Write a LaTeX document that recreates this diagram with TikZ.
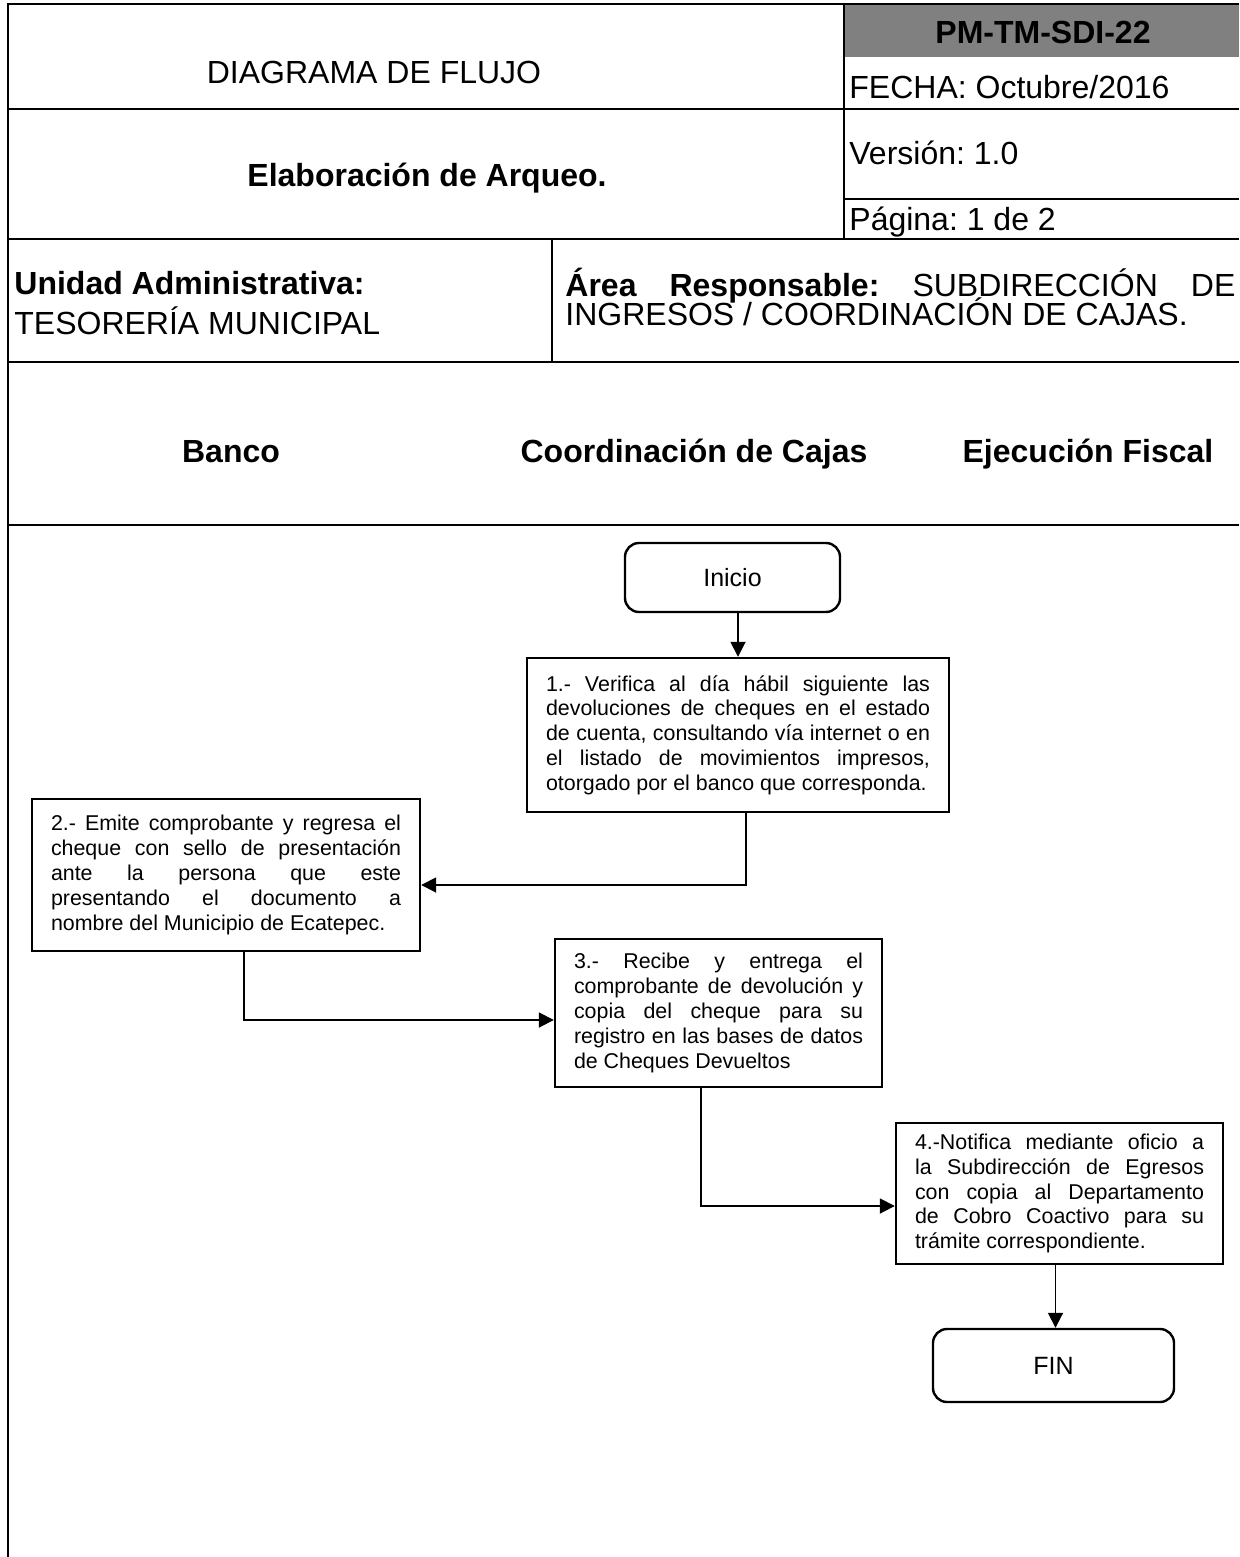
\documentclass[tikz,border=0pt]{standalone}
\usepackage{fontspec}
\setmainfont{Liberation Sans}
\usetikzlibrary{arrows.meta, positioning}
\frenchspacing
\tolerance=10000
\hyphenpenalty=10000
\newcommand{\tightlines}{\lineskiplimit=-20pt\relax}

\begin{document}
\begin{tikzpicture}[x=0.5pt, y=-0.5pt, >={Triangle[length=7.5pt, width=7.5pt]},
    every node/.style={align=center, inner sep=0pt},
    hdr/.style={font=\fontsize{16}{19}\selectfont},
    hdrb/.style={font=\bfseries\fontsize{16}{19}\selectfont},
    tabline/.style={line width=1.4pt},
    stepbox/.style={draw, line width=1.2pt, align=justify, inner xsep=9.5pt,
      font=\fontsize{10.7}{12.4}\selectfont},
    termbox/.style={draw, line width=1.2pt, rounded corners=7pt,
      font=\fontsize{12.5}{15}\selectfont},
    flow/.style={->, line width=0.9pt}]
      \colorlet{codebg}{black!50}
      \useasboundingbox (0, 0) rectangle (1239, 1557);

      % header table
      \fill[codebg] (844, 4) rectangle (1239, 57);
      \draw[tabline] (1239, 4) -- (8, 4) -- (8, 1557);
      \foreach \y in {109, 239, 362, 525} {
        \draw[tabline] (8, \y) -- (1239, \y);
      }
      \draw[tabline] (844, 199) -- (1239, 199);
      \draw[tabline] (844, 4) -- (844, 239);
      \draw[tabline] (552, 239) -- (552, 362);

      \node[hdr] (titulo) at (374, 72) {DIAGRAMA DE FLUJO};
      \node[hdrb] (codigo) at (1043, 32) {PM-TM-SDI-22};
      \node[hdr, anchor=west] (fecha) at (849, 87) {FECHA: Octubre/2016};
      \node[hdrb] (proc) at (427, 178) {Elaboración de Arqueo.};
      \node[hdr, anchor=west] (version) at (849, 153) {Versión: 1.0};
      \node[hdr, anchor=west] (pagina) at (849, 222) {Página: 1 de 2};
      \node[hdrb, anchor=west] (unidad) at (14, 283) {Unidad Administrativa:};
      \node[hdr, anchor=west] (tesoreria) at (14, 321) {TESORERÍA MUNICIPAL};
      \node[anchor=west, text width=335pt, align=justify,
        font=\fontsize{16}{14.5}\selectfont\tightlines] (area) at (565, 296.5)
        {\textbf{Área Responsable:} SUBDIRECCIÓN DE\linebreak INGRESOS / COORDINACIÓN DE CAJAS.};

      % lanes
      \foreach \x/\name/\lane in {231/banco/Banco, 694/coord/Coordinación de Cajas, 1088/ejec/Ejecución Fiscal} {
        \node[hdrb, anchor=base] (\name) at (\x, 462) {\lane};
      }

      % flow
      \node[termbox, minimum width=107.5pt, minimum height=34.5pt] (ini) at (732.5, 577.5) {Inicio};
      \node[stepbox, text width=192pt, minimum height=77pt] (b1) at (738, 735)
        {1.- Verifica al día hábil siguiente las\linebreak devoluciones de cheques en el estado\linebreak
         de cuenta, consultando vía internet o en\linebreak el listado de movimientos impresos,\linebreak
         otorgado por el banco que corresponda.};
      \node[stepbox, text width=175pt, minimum height=76pt] (b2) at (226, 875)
        {2.- Emite comprobante y regresa el\linebreak cheque con sello de presentación\linebreak
         ante la persona que este\linebreak presentando el documento a\linebreak
         nombre del Municipio de Ecatepec.};
      \node[stepbox, text width=144.5pt, minimum height=74pt] (b3) at (718.5, 1013)
        {3.- Recibe y entrega el\linebreak comprobante de devolución y\linebreak
         copia del cheque para su\linebreak registro en las bases de datos\linebreak
         de Cheques Devueltos};
      \node[stepbox, text width=144.5pt, minimum height=70.5pt] (b4) at (1059.5, 1193.5)
        {4.-Notifica mediante oficio a\linebreak la Subdirección de Egresos\linebreak
         con copia al Departamento\linebreak de Cobro Coactivo para su\linebreak
         trámite correspondiente.};
      \node[termbox, minimum width=120.5pt, minimum height=36.5pt] (fin) at (1053.5, 1365.5) {FIN};

      \draw[flow] (b1.north |- ini.south) -- (b1.north);
      \draw[flow] ([xshift=4pt]b1.south) |- ([yshift=-5pt]b2.east);
      \draw[flow] ([xshift=9pt]b2.south) |- ([yshift=-3.5pt]b3.west);
      \draw[flow] ([xshift=-8.75pt]b3.south) |- ([yshift=-6.25pt]b4.west);
      \draw[flow] ([xshift=-2pt]b4.south) -- ([xshift=-2pt]b4.south |- fin.north);
    \end{tikzpicture}
\end{document}
